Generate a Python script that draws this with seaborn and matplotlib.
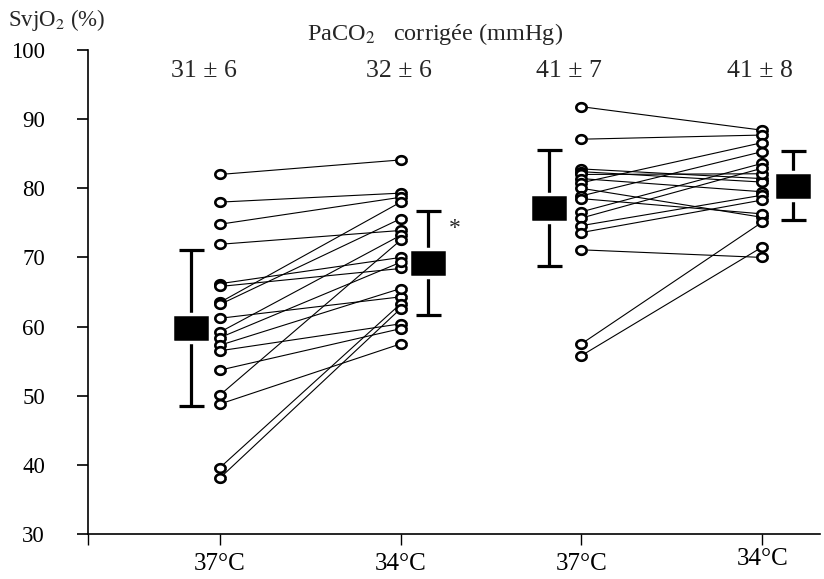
import numpy as np
import pandas as pd
import matplotlib
matplotlib.use("Agg")
import matplotlib.pyplot as plt
import seaborn as sns

# ---------------- data ----------------
conditions = ["37°C", "34°C", "37°C", "34°C"]
paco2_labels = ["31 ± 6", "32 ± 6", "41 ± 7", "41 ± 8"]

# Group A (hypocapnia): 37°C -> 34°C
groupA_37 = [82.0, 78.0, 74.8, 71.9, 66.2, 65.8, 63.5, 63.2, 61.2, 59.2,
             58.4, 57.3, 56.5, 53.7, 50.1, 48.8, 39.6, 38.1]
groupA_34 = [84.1, 79.3, 78.7, 73.9, 70.0, 68.4, 78.0, 75.6, 64.3, 73.2,
             69.3, 65.5, 60.4, 59.7, 72.5, 57.5, 63.3, 62.6]

# Group B (normocapnia): 37°C -> 34°C
groupB_37 = [91.8, 87.1, 82.8, 82.4, 82.0, 81.4, 80.8, 80.0, 78.9, 78.5,
             76.6, 75.7, 74.6, 73.6, 71.1, 57.5, 55.8]
groupB_34 = [88.4, 87.7, 81.4, 80.9, 82.1, 79.5, 86.6, 75.8, 85.3, 76.3,
             83.6, 82.9, 79.0, 78.3, 70.0, 75.1, 71.5]

means = [59.8, 69.2, 77.2, 80.4]
sds = [11.3, 7.5, 8.4, 5.0]
significance = ["", "*", "", ""]

# ---------------- long table ----------------
rows = []
for i, (a, b) in enumerate(zip(groupA_37, groupA_34)):
    rows.append(dict(subject=f"A{i}", pos=1, value=a))
    rows.append(dict(subject=f"A{i}", pos=2, value=b))
for i, (a, b) in enumerate(zip(groupB_37, groupB_34)):
    rows.append(dict(subject=f"B{i}", pos=3, value=a))
    rows.append(dict(subject=f"B{i}", pos=4, value=b))
df = pd.DataFrame(rows)

summary = pd.DataFrame(dict(pos=[1, 2, 3, 4], mean=means, sd=sds))
mean_offsets = [-0.16, 0.15, -0.18, 0.17]

# ---------------- style ----------------
sns.set_theme(style="white")
plt.rcParams["font.family"] = ["Liberation Serif", "DejaVu Serif"]
plt.rcParams["mathtext.fontset"] = "stix"

fig = plt.figure(figsize=(8.24, 5.79), dpi=100)
ax = fig.add_axes([88 / 824, 1 - 534 / 579, (820 - 88) / 824, (534 - 50) / 579])

# paired lines
sns.lineplot(data=df, x="pos", y="value", units="subject", estimator=None,
             color="black", linewidth=0.8, ax=ax, legend=False, zorder=2)
# open circles (slightly flattened ellipse like the original)
t = np.linspace(0, 2 * np.pi, 40)
ellipse = list(zip(1.2 * np.cos(t), np.sin(t)))
sns.scatterplot(data=df, x="pos", y="value", marker=ellipse, s=55,
                facecolor="white", edgecolor="black", linewidth=1.9,
                ax=ax, legend=False, zorder=3)

# mean ± SD
rect = [(-1.3, -1), (1.3, -1), (1.3, 1), (-1.3, 1), (-1.3, -1)]
for p, m, s, off, sig in zip(summary["pos"], summary["mean"], summary["sd"],
                             mean_offsets, significance):
    ax.errorbar(p + off, m, yerr=s, fmt="none", ecolor="black",
                elinewidth=2.3, capsize=9, capthick=2.3, zorder=4)
    ax.plot(p + off, m, marker=rect, markersize=27, color="black",
            markeredgecolor="white", markeredgewidth=2.5, zorder=5)
    if sig:
        ax.text(p + off + 0.15, m + s - 2.5, sig, fontsize=17, ha="center",
                va="center")

# PaCO2 values
text_x = [0.91, 1.99, 2.93, 3.99]
for tx, lab in zip(text_x, paco2_labels):
    ax.text(tx, 96.9, lab, fontsize=18.5, ha="center", va="center", clip_on=False)
ax.text(2.19, 102.3, "PaCO$_2$   corrigée (mmHg)", fontsize=17.5, ha="center",
        va="center", clip_on=False)
fig.text(8 / 824, 1 - 20 / 579, "SvjO$_2$ (%)", fontsize=16.5, ha="left", va="center")

# axes
ax.set_xlim(0.27, 4.32)
ax.set_ylim(30, 100)
ax.set_yticks(np.arange(30, 101, 10))
ax.set_yticklabels([str(v) for v in range(30, 101, 10)], fontsize=16.5)
ax.set_xticks([0.27, 1, 2, 3, 4])
ax.set_xticklabels([""] + conditions, fontsize=18)
ax.tick_params(axis="y", direction="out", length=8, width=1.2, pad=23,
               left=True, colors="black")
ax.tick_params(axis="x", direction="out", length=8, width=1.0, pad=6,
               bottom=True, colors="black")
# last label sits a little higher in the original
ax.get_xticklabels()[-1].set_y(0.012)
ax.set_xlabel("")
ax.set_ylabel("")
for side in ["top", "right"]:
    ax.spines[side].set_visible(False)
for side in ["left", "bottom"]:
    ax.spines[side].set_color("black")
    ax.spines[side].set_linewidth(1.2)
ax.grid(False)

fig.savefig("out.png", dpi=100)
